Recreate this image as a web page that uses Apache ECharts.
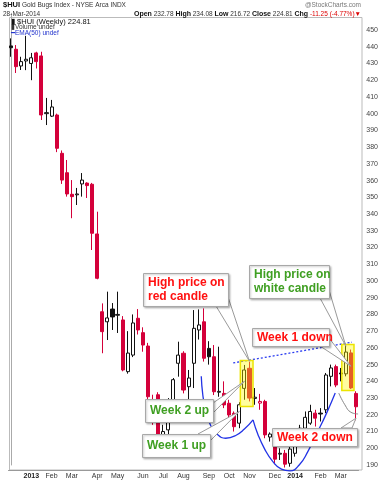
<!DOCTYPE html>
<html><head><meta charset="utf-8">
<script src="https://cdn.jsdelivr.net/npm/echarts@6/dist/echarts.min.js"></script>
<style>html,body{margin:0;padding:0;background:#fff}#c{width:383px;height:480px}</style>
</head><body><div id="c"></div>
<script>
// ---- data ----
const weeks = ['2012-12-07','2012-12-14','2012-12-21','2012-12-28','2013-01-04','2013-01-11','2013-01-18','2013-01-25',
'2013-02-01','2013-02-08','2013-02-15','2013-02-22','2013-03-01','2013-03-08','2013-03-15','2013-03-22','2013-03-29',
'2013-04-05','2013-04-12','2013-04-19','2013-04-26','2013-05-03','2013-05-10','2013-05-17','2013-05-24','2013-05-31',
'2013-06-07','2013-06-14','2013-06-21','2013-06-28','2013-07-05','2013-07-12','2013-07-19','2013-07-26','2013-08-02',
'2013-08-09','2013-08-16','2013-08-23','2013-08-30','2013-09-06','2013-09-13','2013-09-20','2013-09-27','2013-10-04',
'2013-10-11','2013-10-18','2013-10-25','2013-11-01','2013-11-08','2013-11-15','2013-11-22','2013-11-29','2013-12-06',
'2013-12-13','2013-12-20','2013-12-27','2014-01-03','2014-01-10','2014-01-17','2014-01-24','2014-01-31','2014-02-07',
'2014-02-14','2014-02-21','2014-02-28','2014-03-07','2014-03-14','2014-03-21','2014-03-28'];
const opens  = [440.5,438.5,428.5,431.5,430,436.3,434.5,400,398.5,399.2,376.3,364.7,351.8,351.5,358,358.5,357.8,
328.1,281.6,275.6,283.2,279.5,276.7,245.8,255.7,277.7,269.1,261.1,229,232,206,211,224,250.8,256.8,236.8,250.8,
270.7,275.6,259.7,254.7,233.5,232.8,226.9,220.9,215,235.8,247.8,229.8,227,228,206.7,207,196.5,197,191,197,204,
212,215,221,221,223,243,248.8,245,244.5,257,232.78];
const highs  = [445,441,434,446.5,436.3,437,437,409.4,408.2,400,378,372.3,360.3,355.6,364.5,359,358.6,
341.4,286.6,293.6,286.8,293.6,279,270,280,283.2,272.3,263,232,233.5,214,230,242,263.7,258,246.8,282.6,
283,283.6,264,261.7,260.7,240,229,222,227.5,249.8,251.7,236,232.5,229,209.5,209,200,199,202,205,214,
222,226,223,224,245,250,250,248,261.5,259,234.08];
const lows   = [434,424.3,426.1,426,420,427,396.2,393.2,398,377,358,350.4,337.5,345.4,350.4,349.6,318.5,
301,256.8,264.7,270.7,268.9,246,244.6,254.5,268,257.7,229,214,203,200,208,221,242.8,232.8,227,236,
265,251.8,250,231.8,230.8,224,216,210,212,229,228,226,223,206,204,190.5,193,188.5,189,195,202,
210,214,213,216,221,237,236.5,240,243,235.5,216.72];
const closes = [439.4,428.1,431.1,432.5,433.4,431.1,399.2,400.6,404,379.3,360.3,352,350.4,352,360.3,357,328.5,
301.6,269.7,277.9,278.5,280,246.8,256.9,274.9,270.7,261.7,230.8,219,208,210,226,241,255.7,234.8,242,271.7,
273.7,253.8,254.7,233.8,234,225.9,219.9,212.9,226,246.8,230,230.5,228,208,208.5,193.5,197,190.5,199.5,203,212,
218.5,222,218,220.5,243.8,248,237.8,244.4,257.5,236.06,224.81];
const yTickLabels = [190,200,210,220,230,240,250,260,270,280,290,300,310,320,330,340,350,360,370,380,390,400,410,420,430,440,450];
const monthNames = ['Jan','Feb','Mar','Apr','May','Jun','Jul','Aug','Sep','Oct','Nov','Dec'];
// annotation geometry in data units [week index, price]
const highlightBoxes = [[45.2,47.7,225,252.5],[65.2,67.6,234.5,262]];
const blueArc1 = [[37.5,243],[37.8,232],[38.4,222],[39.3,214],[40.6,208.5],[42.3,206],[44.2,207.5],[46.0,211.5],[47.7,217]];
const blueArc2 = [[47.7,217],[48.7,208],[50.0,199.5],[51.5,192.5],[53.3,187.5],[55.0,186.5],[56.8,190],[58.5,198],[60.3,209],[62.2,221],[63.9,233]];
const greyArc  = [[64.6,233],[65.8,226],[67.0,221.5],[68.4,220.5]];
const dottedLine = [[43.8,251],[67.2,263.4]];
const callouts = [
  {lines:['High price on','red candle'], color:'#ff1010', box:[143,273,85,33], tip:[47,252], base:[[216,306],[228,297]]},
  {lines:['Week 2 up'], color:'#3f9f22', box:[145,399,68,23], tip:[46,240], base:[[213,403],[213,413]]},
  {lines:['Week 1 up'], color:'#3f9f22', box:[142,434,68,23], tip:[45,222], base:[[198,434],[210,441]]},
  {lines:['High price on','white candle'], color:'#3f9f22', box:[249,265,80,33], tip:[66,261], base:[[320,298],[329,290]]},
  {lines:['Week 1 down'], color:'#ff1010', box:[252,328,77,18], tip:[67,249], base:[[320,346],[329,338]]},
  {lines:['Week 2 down'], color:'#ff1010', box:[272,428,85,18], tip:[68,218], base:[[341,428],[352,428]]}
];

// ---- chart ----
const FONT = '"Liberation Sans", Arial, sans-serif';
const RED = '#d4003a', BLACK = '#111';
const candleData = opens.map((o,i)=>{
  const c = closes[i];
  const prev = i>0 ? closes[i-1] : -Infinity;
  const line = c >= prev ? BLACK : RED;
  const fill = c > o ? '#ffffff' : line;
  return {value:[o,c,lows[i],highs[i]], itemStyle:{color:fill,color0:fill,borderColor:line,borderColor0:line}};
});

const chart = echarts.init(document.getElementById('c'));
const option = {
  animation:false,
  backgroundColor:'#fff',
  grid:{left:8.46, width:350.1, top:13.27, height:451.73},
  xAxis:[{
    type:'category', data:weeks, boundaryGap:true, offset:5,
    axisLine:{show:true, lineStyle:{color:'#999', width:1}},
    axisTick:{show:false},
    splitLine:{show:false},
    axisLabel:{
      interval:(idx)=> idx>0 && weeks[idx].slice(5,7)!==weeks[idx-1].slice(5,7),
      formatter:(v)=>{const m=+v.slice(5,7); return m===1 ? '{y|'+v.slice(0,4)+'}' : monthNames[m-1];},
      fontSize:7, color:'#333', margin:3, fontFamily:FONT,
      rich:{y:{fontWeight:'bold', fontSize:7, fontFamily:FONT, color:'#222'}}
    }
  },{
    type:'value', min:-0.5, max:68.5, show:false
  }],
  yAxis:{
    type:'value', position:'right', min:190, max:460, interval:10, offset:3.7,
    axisLine:{show:true, lineStyle:{color:'#aaa'}},
    axisTick:{show:false},
    splitLine:{show:false},
    axisLabel:{formatter:(v)=> yTickLabels.includes(v) ? String(v) : '', fontSize:7, color:'#444', margin:4, fontFamily:FONT}
  },
  series:[
    {type:'candlestick', xAxisIndex:0, data:candleData, barWidth:3.6, clip:false, z:2,
     itemStyle:{borderWidth:1}},
    {type:'custom', xAxisIndex:1, yAxisIndex:0, z:5, clip:false,
     data:highlightBoxes,
     encode:{x:[0,1], y:[2,3]},
     renderItem:(params, api)=>{
       const p0 = api.coord([api.value(0), api.value(3)]);
       const p1 = api.coord([api.value(1), api.value(2)]);
       return {type:'rect', shape:{x:p0[0], y:p0[1], width:p1[0]-p0[0], height:p1[1]-p0[1]},
               style:{fill:'rgba(255,250,0,0.38)', stroke:'rgba(236,228,0,1)', lineWidth:1.5}};
     }},
    {type:'line', xAxisIndex:1, data:blueArc1, smooth:0.5, symbol:'none', clip:false, z:4,
     lineStyle:{color:'#2233e6', width:1.3}},
    {type:'line', xAxisIndex:1, data:blueArc2, smooth:0.5, symbol:'none', clip:false, z:4,
     lineStyle:{color:'#2233e6', width:1.3}},
    {type:'line', xAxisIndex:1, data:greyArc, smooth:0.5, symbol:'none', clip:false, z:4,
     lineStyle:{color:'#888', width:1}},
    {type:'line', xAxisIndex:1, data:dottedLine, symbol:'none', clip:false, z:4,
     lineStyle:{color:'#2a3cf0', width:1.3, type:[2,2]}}
  ]
};
chart.setOption(option);

// ---- annotations / header ----
const g = [];
g.push({type:'rect', z:0, silent:true, shape:{x:9.5, y:17.5, width:352.5, height:452.5}, style:{fill:'none', stroke:'#bbb', lineWidth:1}});
g.push({type:'text', z:50, style:{x:3, y:5, verticalAlign:'middle', text:'{b|$HUI} Gold Bugs Index - NYSE Arca INDX',
  font:'6.5px '+FONT, fill:'#333', rich:{b:{fontWeight:'bold', fontSize:7.5, fontFamily:FONT, fill:'#111'}}}});
g.push({type:'text', z:50, style:{x:361, y:5, align:'right', verticalAlign:'middle', text:'@StockCharts.com', font:'6.5px '+FONT, fill:'#777'}});
g.push({type:'text', z:50, style:{x:3, y:14, verticalAlign:'middle', text:'28-Mar-2014', font:'6.5px '+FONT, fill:'#333'}});
g.push({type:'text', z:50, style:{x:361, y:14, align:'right', verticalAlign:'middle',
  text:'{l|Open} 232.78 {l|High} 234.08 {l|Low} 216.72 {l|Close} 224.81 {l|Chg} {r|-11.25 (-4.77%)▼}',
  font:'6.5px '+FONT, fill:'#333',
  rich:{l:{fontWeight:'bold', fontSize:7, fontFamily:FONT, fill:'#111'}, r:{fontSize:6.5, fontFamily:FONT, fill:'#d00'}}}});
// legend inside plot
g.push({type:'text', z:50, style:{x:11, y:21.5, verticalAlign:'middle', text:'▮ $HUI (Weekly) 224.81', font:'7.5px '+FONT, fill:'#111'}});
g.push({type:'text', z:50, style:{x:11, y:27.5, verticalAlign:'middle', text:'▮Volume undef', font:'6.5px '+FONT, fill:'#333'}});
g.push({type:'text', z:50, style:{x:11, y:33.5, verticalAlign:'middle', text:'━EMA(50) undef', font:'6.5px '+FONT, fill:'#2233cc'}});

callouts.forEach(c=>{
  const tip = chart.convertToPixel({seriesIndex:2}, c.tip);
  const [bx,by,bw,bh] = c.box;
  g.push({type:'polygon', z:60, shape:{points:[c.base[0], tip, c.base[1]]}, style:{fill:'#fff', stroke:'#9a9a9a', lineWidth:1}});
  g.push({type:'rect', z:61, shape:{x:bx+0.5, y:by+0.5, width:bw, height:bh},
    style:{fill:'#fff', stroke:'#a8a8a8', lineWidth:1, shadowBlur:2, shadowOffsetX:1, shadowOffsetY:1, shadowColor:'rgba(0,0,0,0.25)'}});
  const lh = 14;
  const top = by + bh/2 - (c.lines.length-1)*lh/2;
  c.lines.forEach((t,k)=>{
    g.push({type:'text', z:62, style:{x:bx+5, y:top+k*lh+0.5, verticalAlign:'middle', text:t, font:'bold 12px '+FONT, fill:c.color}});
  });
});
chart.setOption({graphic:g});
</script></body></html>
